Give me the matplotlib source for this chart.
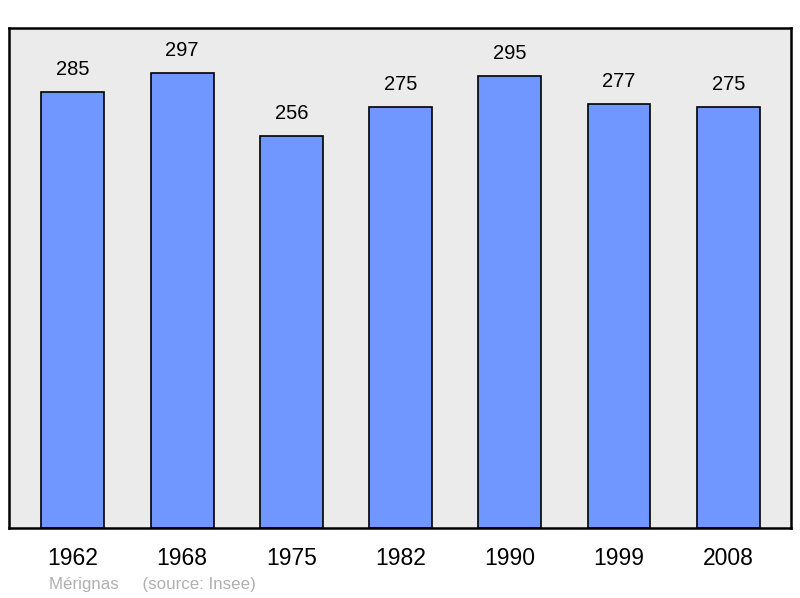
import matplotlib
matplotlib.use('Agg')
from matplotlib import pyplot as plt

years = ['1962', '1968', '1975', '1982', '1990', '1999', '2008']
population = [285, 297, 256, 275, 295, 277, 275]
commune = 'Mérignas'
source = '(source: Insee)'

plt.rcParams['font.family'] = ['Liberation Sans', 'DejaVu Sans']

fig = plt.figure(figsize=(8, 5.98), dpi=100)
ax = fig.add_axes([0.01125, 0.117, 0.9775, 0.836])
ax.set_facecolor('#ebebeb')

x = range(len(years))
bars = ax.bar(x, population, width=0.575, color='#7096ff',
              edgecolor='black', linewidth=1.2, zorder=2)

for rect, val in zip(bars, population):
    ax.annotate(str(val), (rect.get_x() + rect.get_width() / 2, rect.get_height()),
                xytext=(0, 9.5), textcoords='offset points',
                ha='center', va='bottom', fontsize=14.5)

ax.set_xlim(-0.585, len(years) - 1 + 0.575)
ax.set_ylim(0, 326.6)
ax.set_xticks(list(x))
ax.set_xticklabels(years, fontsize=16.5)
ax.tick_params(axis='x', length=0, pad=14)
ax.set_yticks([])

for s in ax.spines.values():
    s.set_linewidth(1.8)
    s.set_color('black')

fig.text(49 / 800, 1 - 585 / 598, commune + '     ' + source,
         fontsize=12.2, color='#b0b0b0', va='center', ha='left')

fig.savefig('out.png', dpi=100)
